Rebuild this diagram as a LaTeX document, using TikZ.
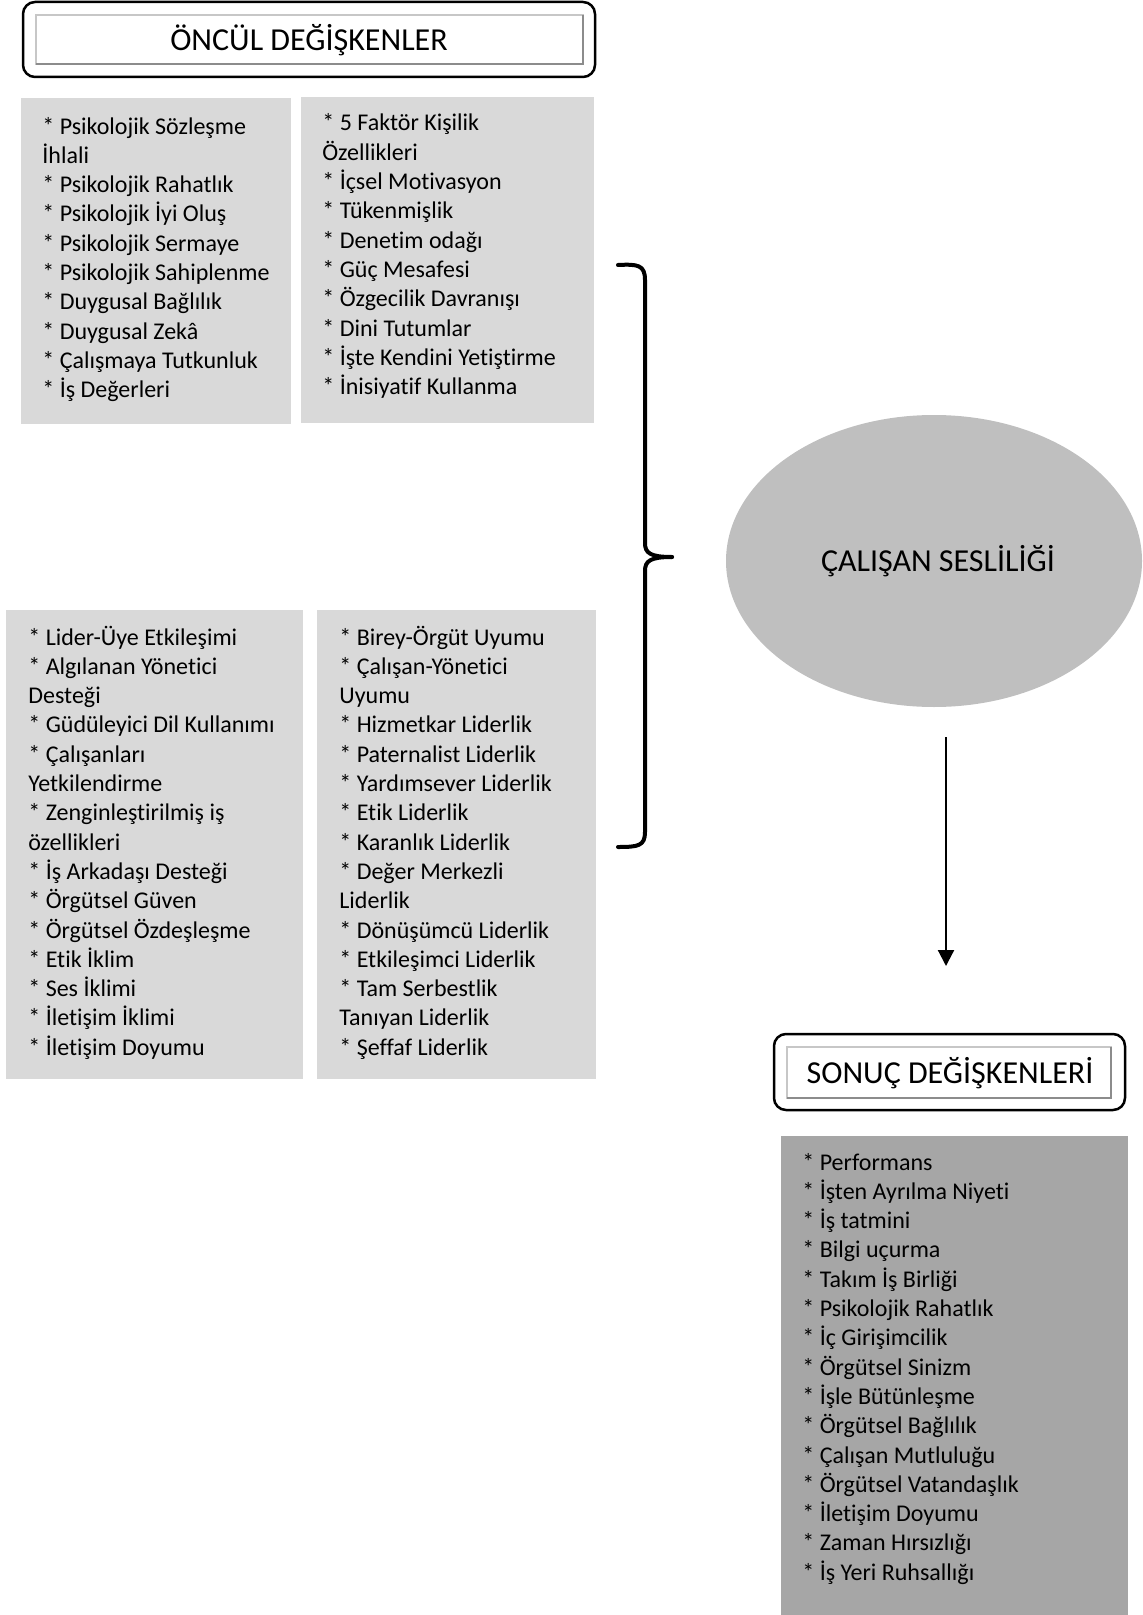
\documentclass[tikz,border=0pt]{standalone}
\usepackage{fontspec}
\setmainfont[Ligatures=NoCommon]{Carlito}
\usetikzlibrary{shapes.geometric,arrows.meta}
\definecolor{boxgray}{HTML}{D9D9D9}
\definecolor{ellgray}{HTML}{BFBFBF}
\definecolor{resgray}{HTML}{A6A6A6}
\begin{document}
\begin{tikzpicture}[x=0.5pt,y=-0.5pt,
  item/.style={anchor=base west, inner sep=0pt, align=left, font=\fontsize{12}{14.65}\selectfont},
  titletext/.style={inner sep=0pt, font=\fontsize{16}{19}\selectfont},
  outerframe/.style={draw=black, line width=1.25pt, rounded corners=6pt, fill=white},
  innerframe/.style={draw=black!22, line width=0.8pt, fill=white},
  bracestroke/.style={line width=2pt, line cap=round, line join=round},
  conn/.style={line width=1.1pt, -{Triangle[length=8pt,width=8pt]}}]
\useasboundingbox (0,0) rectangle (1142,1615);

% ---------- top title ----------
\draw[outerframe] (23,2) rectangle (595,77);
\draw[innerframe] (36,15) rectangle (583,64);
\draw[black!45, line width=1pt] (583,15) -- (583,64) -- (36,64);
\node[titletext] (t1) at (309,40) {ÖNCÜL DEĞİŞKENLER};

% ---------- antecedent boxes ----------
\fill[boxgray] (21,98) rectangle (291,424);
\fill[boxgray] (301,97) rectangle (594,423);
\fill[boxgray] (6,610) rectangle (303,1079);
\fill[boxgray] (317,610) rectangle (596,1079);

% (base anchor of a multi-line node = baseline of its last line)
\node[item] (l1) at (42,397.7) {* Psikolojik Sözleşme\\İhlali\\* Psikolojik Rahatlık\\* Psikolojik İyi Oluş\\* Psikolojik Sermaye\\* Psikolojik Sahiplenme\\* Duygusal Bağlılık\\* Duygusal Zekâ\\* Çalışmaya Tutkunluk\\* İş Değerleri};

\node[item] (l2) at (322,394.7) {* 5 Faktör Kişilik\\Özellikleri\\* İçsel Motivasyon\\* Tükenmişlik\\* Denetim odağı\\* Güç Mesafesi\\* Özgecilik Davranışı\\* Dini Tutumlar\\* İşte Kendini Yetiştirme\\* İnisiyatif Kullanma};

\node[item] (l3) at (28,1055.2) {* Lider-Üye Etkileşimi\\* Algılanan Yönetici\\Desteği\\* Güdüleyici Dil Kullanımı\\* Çalışanları\\Yetkilendirme\\* Zenginleştirilmiş iş\\özellikleri\\* İş Arkadaşı Desteği\\* Örgütsel Güven\\* Örgütsel Özdeşleşme\\* Etik İklim\\* Ses İklimi\\* İletişim İklimi\\* İletişim Doyumu};

\node[item] (l4) at (339,1055.2) {* Birey-Örgüt Uyumu\\* Çalışan-Yönetici\\Uyumu\\* Hizmetkar Liderlik\\* Paternalist Liderlik\\* Yardımsever Liderlik\\* Etik Liderlik\\* Karanlık Liderlik\\* Değer Merkezli\\Liderlik\\* Dönüşümcü Liderlik\\* Etkileşimci Liderlik\\* Tam Serbestlik\\Tanıyan Liderlik\\* Şeffaf Liderlik};

% ---------- brace ----------
\draw[bracestroke] (618,265) .. controls (638,264) and (645,265) .. (645,280) -- (645,543) .. controls (645,553) and (650,557) .. (672,557);
\draw[bracestroke] (672,557) .. controls (650,557) and (645,561) .. (645,571) -- (645,832) .. controls (645,846) and (638,847) .. (618,847);

% ---------- central construct ----------
\node[ellipse, fill=ellgray, minimum width=208pt, minimum height=146pt, inner sep=0pt] (cs) at (934,561) {};
\node[titletext] (cst) at (938,561) {ÇALIŞAN SESLİLİĞİ};

% ---------- outcome title ----------
\draw[outerframe] (774,1034) rectangle (1125,1110);
\draw[innerframe] (787,1047) rectangle (1111,1098);
\draw[black!45, line width=1pt] (1111,1047) -- (1111,1098) -- (787,1098);
\node[titletext] (t2) at (950,1073) {SONUÇ DEĞİŞKENLERİ};

% ---------- arrow ----------
\coordinate (a1) at (946,737);
\coordinate (a2) at (946,966);
\draw[conn] (a1) -- (a2);

% ---------- outcome box ----------
\fill[resgray] (781,1136) rectangle (1128,1615);
\node[item] (r1) at (802,1580.2) {* Performans\\* İşten Ayrılma Niyeti\\* İş tatmini\\* Bilgi uçurma\\* Takım İş Birliği\\* Psikolojik Rahatlık\\* İç Girişimcilik\\* Örgütsel Sinizm\\* İşle Bütünleşme\\* Örgütsel Bağlılık\\* Çalışan Mutluluğu\\* Örgütsel Vatandaşlık\\* İletişim Doyumu\\* Zaman Hırsızlığı\\* İş Yeri Ruhsallığı};
\end{tikzpicture}
\end{document}
